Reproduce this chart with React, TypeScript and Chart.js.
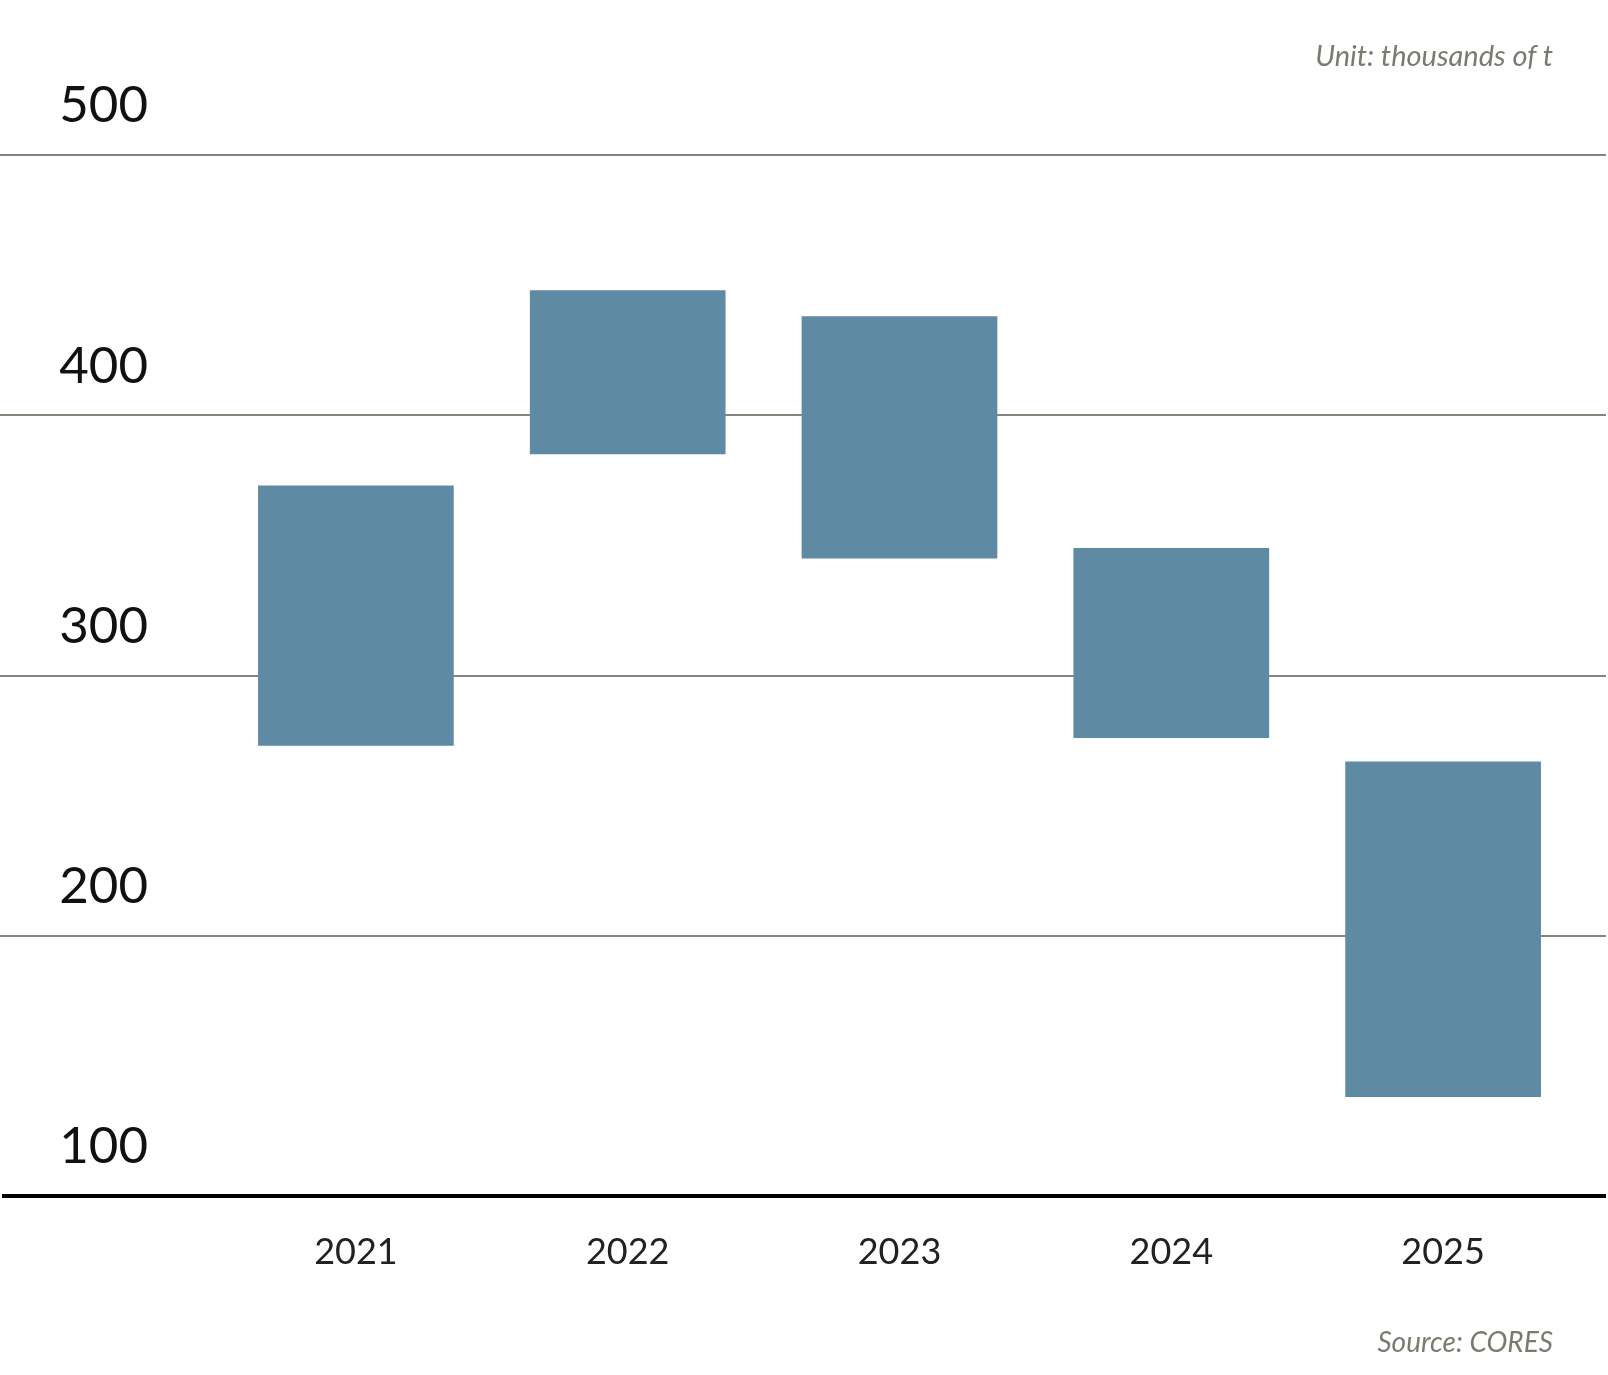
import { useEffect, useRef } from "react";
import { Chart, registerables, Plugin } from "chart.js";

Chart.register(...registerables);

const years = ["2021", "2022", "2023", "2024", "2025"];
const lowValues = [273, 385, 345, 276, 138];
const highValues = [373, 448, 438, 349, 267];
const yTicks = [100, 200, 300, 400, 500];

const FONT = "Lato, 'Open Sans', sans-serif";

// horizontal rules that run past the plot area, to the page edges
const ruleLines: Plugin<"bar"> = {
  id: "ruleLines",
  beforeDatasetsDraw(chart) {
    const { ctx, width } = chart;
    const y = chart.scales.y;
    ctx.save();
    yTicks.forEach((t) => {
      const py = Math.round(y.getPixelForValue(t));
      ctx.beginPath();
      if (t === yTicks[0]) {
        ctx.strokeStyle = "#000";
        ctx.lineWidth = 4;
        ctx.moveTo(2, py);
      } else {
        ctx.strokeStyle = "#86867b";
        ctx.lineWidth = 2;
        ctx.moveTo(0, py);
      }
      ctx.lineTo(width - 2, py);
      ctx.stroke();
    });
    ctx.restore();
  },
};

export default function App() {
  const canvasRef = useRef<HTMLCanvasElement | null>(null);
  const chartRef = useRef<Chart<"bar"> | null>(null);

  useEffect(() => {
    document.body.style.margin = "0";
    if (!canvasRef.current) return;
    chartRef.current?.destroy();
    chartRef.current = new Chart(canvasRef.current, {
      type: "bar",
      data: {
        labels: years,
        datasets: [
          {
            data: years.map((_, i) => [lowValues[i], highValues[i]]),
            backgroundColor: "#5e8aa3",
            barPercentage: 0.72,
            categoryPercentage: 1,
          },
        ],
      },
      options: {
        responsive: false,
        animation: false,
        layout: { padding: { top: 155, right: 29, bottom: 0, left: 0 } },
        plugins: { legend: { display: false }, tooltip: { enabled: false } },
        scales: {
          x: {
            grid: { display: false, drawTicks: false },
            border: { display: false },
            ticks: {
              color: "#222",
              font: { family: FONT, size: 36 },
              padding: 35,
            },
            afterFit: (s) => {
              s.height = 179;
            },
          },
          y: {
            min: 100,
            max: 500,
            grid: { display: false, drawTicks: false },
            border: { display: false },
            ticks: {
              stepSize: 100,
              color: "#111",
              font: { family: FONT, size: 51 },
              padding: 72,
              labelOffset: -49,
            },
            afterFit: (s) => {
              s.width = 220;
            },
          },
        },
      },
      plugins: [ruleLines],
    });
    return () => {
      chartRef.current?.destroy();
      chartRef.current = null;
    };
  }, []);

  const note = {
    position: "absolute" as const,
    right: 55,
    fontFamily: FONT,
    fontStyle: "italic",
    color: "#7a7a70",
    whiteSpace: "nowrap" as const,
  };

  return (
    <div style={{ position: "relative", width: 1608, height: 1375, background: "#fff" }}>
      <canvas ref={canvasRef} width={1608} height={1375} style={{ display: "block" }} />
      <div style={{ ...note, top: 37, fontSize: 29 }}>Unit: thousands of t</div>
      <div style={{ ...note, top: 1324, fontSize: 28 }}>Source: CORES</div>
    </div>
  );
}
